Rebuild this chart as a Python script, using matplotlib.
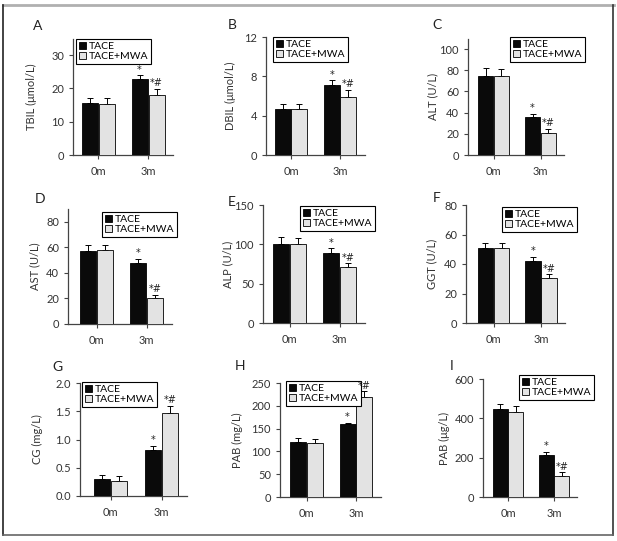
import matplotlib
matplotlib.use("Agg")
import matplotlib.pyplot as plt
from matplotlib.patches import Patch
from matplotlib.lines import Line2D

plt.rcParams['font.family'] = ['Lato', 'DejaVu Sans']

# ---------------- data ----------------
groups = ['0m', '3m']
series = ['TACE', 'TACE+MWA']
panel_letters = ['A', 'B', 'C', 'D', 'E', 'F', 'G', 'H', 'I']
ylabels = ['TBIL (μmol/L)', 'DBIL (μmol/L)', 'ALT (U/L)', 'AST (U/L)', 'ALP (U/L)',
           'GGT (U/L)', 'CG (mg/L)', 'PAB (mg/L)', 'PAB (μg/L)']

# [[TACE 0m, TACE 3m], [TACE+MWA 0m, TACE+MWA 3m]]
tbil_mean = [[15.5, 22.7], [15.3, 18.0]]
tbil_err = [[1.5, 1.2], [1.7, 1.8]]
dbil_mean = [[4.7, 7.1], [4.7, 5.9]]
dbil_err = [[0.5, 0.5], [0.5, 0.7]]
alt_mean = [[75, 36], [75, 21]]
alt_err = [[7, 3], [6, 4]]
ast_mean = [[57.5, 48], [58, 20]]
ast_err = [[4, 3], [3.5, 3]]
alp_mean = [[100, 89], [100, 71]]
alp_err = [[9, 6], [8, 5]]
ggt_mean = [[51, 42], [51, 30.5]]
ggt_err = [[3, 3], [3, 2.5]]
cg_mean = [[0.30, 0.82], [0.27, 1.47]]
cg_err = [[0.08, 0.07], [0.08, 0.12]]
pabm_mean = [[120, 160], [118, 220]]
pabm_err = [[10, 2], [10, 12]]
pabu_mean = [[445, 213], [432, 108]]
pabu_err = [[30, 15], [32, 18]]

yticks = [[0, 10, 20, 30], [0, 4, 8, 12], [0, 20, 40, 60, 80, 100], [0, 20, 40, 60, 80],
          [0, 50, 100, 150], [0, 20, 40, 60, 80], [0.0, 0.5, 1.0, 1.5, 2.0],
          [0, 50, 100, 150, 200, 250], [0, 200, 400, 600]]
ytops = [35, 12, 110, 90, 150, 80, 2.0, 250, 600]
marks_tace = ['', '*']
marks_mwa = ['', '*#']

means = [tbil_mean, dbil_mean, alt_mean, ast_mean, alp_mean, ggt_mean, cg_mean, pabm_mean, pabu_mean]
errs = [tbil_err, dbil_err, alt_err, ast_err, alp_err, ggt_err, cg_err, pabm_err, pabu_err]

# ---------------- layout (pixels) ----------------
W, H = 617, 541
# x0 (y axis), first group centre, group spacing, y of zero, y of top
geom = [(73, 98, 50, 155, 38.5), (266, 291, 49, 155, 37), (468, 493.5, 47, 155, 38.5),
        (68, 96.5, 50, 324, 209), (263, 289.5, 50, 323, 205), (466, 493.5, 47.5, 323, 205),
        (80, 110.5, 51, 496, 383), (280, 306.5, 49.5, 497, 383), (483, 508, 46, 497, 379)]
leg_pos = [(76, 39), (273, 37), (510, 37), (102, 212), (300, 206), (502, 207),
           (82, 382), (286, 381), (519, 375)]
letter_pos = [(38, 26), (232, 25), (437, 25), (40, 199), (232, 202), (437, 198),
              (57, 367), (240, 366), (452, 366)]
ylab_x = [37, 236, 438, 40, 233, 437, 43, 243, 450]

fig = plt.figure(figsize=(W / 100, H / 100), dpi=100)

axis_col = '#444444'
colors = ['#0a0a0a', '#e3e3e3']
bw = 0.32
off = 0.17

for i in range(9):
    x0, c0, s, yb, yt = geom[i]
    xr = 1.5
    xl = -(c0 - x0) / s
    x1 = c0 + xr * s
    ax = fig.add_axes([x0 / W, 1 - yb / H, (x1 - x0) / W, (yb - yt) / H])
    handles = []
    for k in range(2):
        xs = [g + (-off if k == 0 else off) for g in range(2)]
        m = means[i][k]
        e = errs[i][k]
        ax.bar(xs, m, width=bw, color=colors[k], edgecolor='black', linewidth=0.6, zorder=3)
        ax.errorbar(xs, m, yerr=[[0, 0], e], fmt='none', ecolor='black', elinewidth=0.7,
                    capsize=2.2, capthick=0.7, zorder=2)
        handles.append(Patch(facecolor=colors[k], edgecolor='black', linewidth=0.6))
        marks = marks_tace if k == 0 else marks_mwa
        for g in range(2):
            if marks[g]:
                ax.annotate(marks[g], (xs[g], m[g] + e[g]), xytext=(0, 0.5),
                            textcoords='offset points', ha='center', va='bottom',
                            fontsize=7, color='#222222', family='DejaVu Sans', zorder=7)
    ax.set_xlim(xl, xr)
    ax.set_ylim(0, ytops[i])
    ax.set_xticks(range(2))
    ax.set_xticklabels(groups)
    ax.set_yticks(yticks[i])
    if i == 6:
        ax.set_yticklabels(['%.1f' % v for v in yticks[i]])
    for sp in ['top', 'right']:
        ax.spines[sp].set_visible(False)
    for sp in ['left', 'bottom']:
        ax.spines[sp].set_color(axis_col)
        ax.spines[sp].set_linewidth(0.9)
    ax.tick_params(axis='both', colors=axis_col, labelcolor='#333333', labelsize=8,
                   length=3, width=0.8)
    ax.tick_params(axis='x', pad=5)
    ax.set_ylabel(ylabels[i], fontsize=8, color='#333333')
    ax.yaxis.set_label_coords(ylab_x[i] / W, 1 - ((yb + yt) / 2) / H, transform=fig.transFigure)
    lx, ly = leg_pos[i]
    leg = ax.legend(handles, series, loc='upper left',
                    bbox_to_anchor=(lx / W, 1 - ly / H), bbox_transform=fig.transFigure,
                    fontsize=7.5, handlelength=0.7, handleheight=0.7, handletextpad=0.25,
                    borderpad=0.25, labelspacing=0.1, borderaxespad=0, fancybox=False,
                    framealpha=1, edgecolor='black')
    leg.get_frame().set_linewidth(0.8)
    leg.set_zorder(5)
    px, py = letter_pos[i]
    fig.text(px / W, 1 - py / H, panel_letters[i], fontsize=10, ha='center', va='center',
             color='#222222')

# outer frame
def fline(xa, ya, xb, yb, c, lw):
    fig.add_artist(Line2D([xa / W, xb / W], [1 - ya / H, 1 - yb / H], color=c, lw=lw,
                          transform=fig.transFigure))

fline(3, 5, 614, 5, '#b0b0b0', 2.0)
fline(3, 5, 3, 535, '#222222', 1.2)
fline(613, 5, 613, 535, '#333333', 1.2)
fline(3, 535, 613, 535, '#666666', 1.2)

fig.savefig('out.png', dpi=100)
